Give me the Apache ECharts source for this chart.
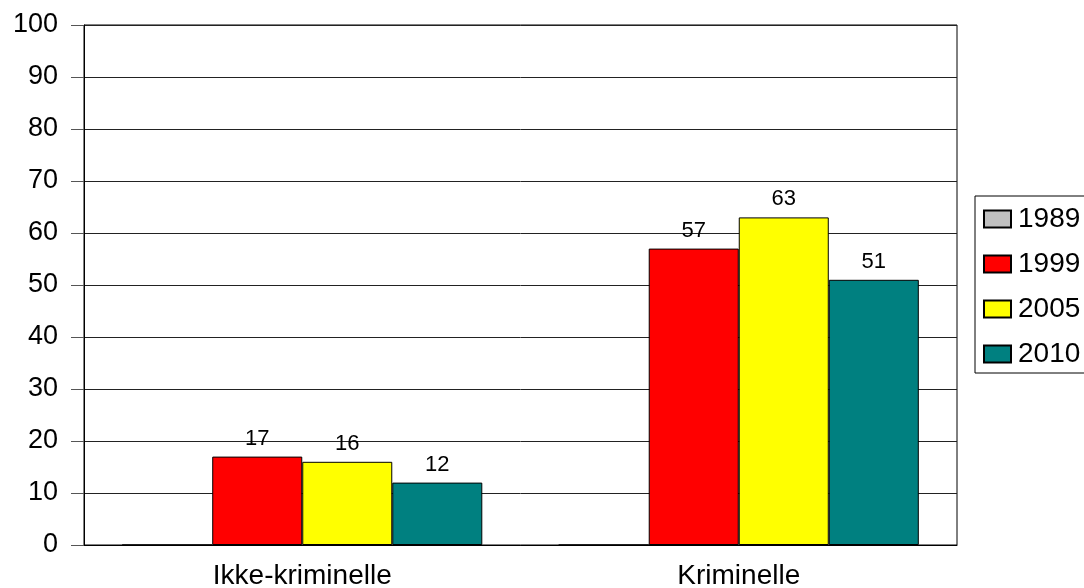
<!DOCTYPE html>
<html>
<head>
<meta charset="utf-8">
<script src="https://cdn.jsdelivr.net/npm/echarts@6/dist/echarts.min.js"></script>
<style>
  html, body { margin: 0; padding: 0; background: #fff; }
  #chart { width: 1084px; height: 588px; }
</style>
</head>
<body>
<div id="chart"></div>
<script>
const categories = ['Ikke-kriminelle', 'Kriminelle'];
const years = ['1989', '1999', '2005', '2010'];
const values1989 = [0, 0];
const values1999 = [17, 57];
const values2005 = [16, 63];
const values2010 = [12, 51];
const yTicks = [0, 10, 20, 30, 40, 50, 60, 70, 80, 90, 100];

const COLORS = ['#c0c0c0', '#ff0000', '#ffff00', '#008080'];
const FONT = '"Liberation Sans", Arial, sans-serif';

function makeBar(name, data, color, showLabel) {
  return {
    name, type: 'bar', data,
    barGap: 0, barCategoryGap: '17.5%',
    itemStyle: { color, borderColor: '#000', borderWidth: 1 },
    label: {
      show: showLabel, position: 'top', distance: 7,
      color: '#000', fontFamily: FONT, fontSize: 22,
    },
  };
}

const chart = echarts.init(document.getElementById('chart'));
chart.setOption({
  backgroundColor: '#fff',
  animation: false,
  grid: {
    left: 84, right: 127, top: 25, bottom: 43,
    outerBoundsMode: 'none', containLabel: false,
    show: true, borderColor: '#000', borderWidth: 1,
  },
  legend: {
    data: years,
    orient: 'vertical',
    left: 975, top: 196,
    padding: [9, 12, 5, 8],
    itemGap: 17,
    itemWidth: 27, itemHeight: 17,
    icon: 'rect',
    borderColor: '#000', borderWidth: 1,
    textStyle: { color: '#000', fontFamily: FONT, fontSize: 28, lineHeight: 27, padding: [0, 0, 0, 2] },
  },
  xAxis: {
    type: 'category',
    data: categories,
    axisLine: { lineStyle: { color: '#000' } },
    axisTick: { show: false },
    axisLabel: { color: '#000', fontFamily: FONT, fontSize: 28, margin: 17 },
  },
  yAxis: {
    type: 'value',
    min: yTicks[0], max: yTicks[yTicks.length - 1], interval: 10,
    axisLine: { show: true, lineStyle: { color: '#000' } },
    axisTick: { show: true, inside: false, length: 13, lineStyle: { color: '#555' } },
    axisLabel: { color: '#000', fontFamily: FONT, fontSize: 27, margin: 26 },
    splitLine: { lineStyle: { color: '#222', width: 1 } },
  },
  series: [
    makeBar(years[0], values1989, COLORS[0], false),
    makeBar(years[1], values1999, COLORS[1], true),
    makeBar(years[2], values2005, COLORS[2], true),
    makeBar(years[3], values2010, COLORS[3], true),
  ],
});
</script>
</body>
</html>
